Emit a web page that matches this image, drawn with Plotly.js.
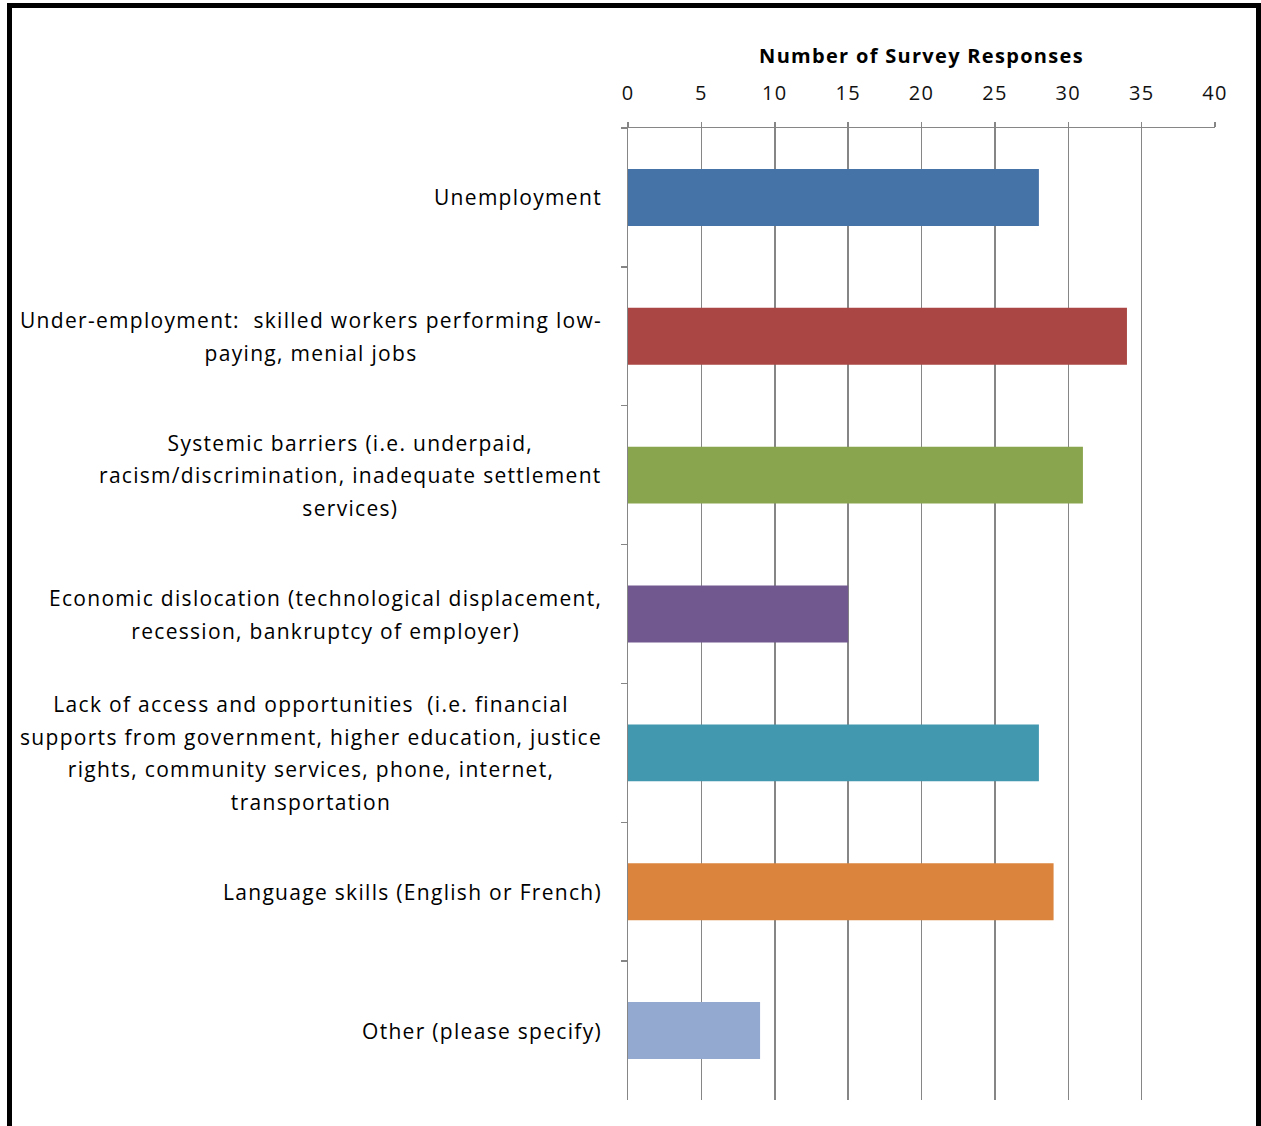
<!DOCTYPE html>
<html>
<head>
<meta charset="utf-8">
<script src="https://cdn.plot.ly/plotly-3.0.1.min.js"></script>
<style>
html,body{margin:0;padding:0;background:#fff;overflow:hidden;}
#wrap{position:relative;width:1261px;height:1126px;}
#frame{position:absolute;left:7px;top:3px;width:1244px;height:1200px;border:5px solid #000;box-sizing:content-box;pointer-events:none;}
#chart{position:absolute;left:0;top:0;width:1261px;height:1126px;}
text{letter-spacing:1.3px;}
</style>
</head>
<body>
<div id="wrap">
<div id="chart"></div>
<div id="frame"></div>
</div>
<script>
const categories = [
  "Unemployment",
  "Under-employment:  skilled workers performing low-<br>paying, menial jobs",
  "Systemic barriers (i.e. underpaid,<br>racism/discrimination, inadequate settlement<br>services)",
  "Economic dislocation (technological displacement,<br>recession, bankruptcy of employer)",
  "Lack of access and opportunities  (i.e. financial<br>supports from government, higher education, justice<br>rights, community services, phone, internet,<br>transportation",
  "Language skills (English or French)",
  "Other (please specify)"
];
const responses = [28, 34, 31, 15, 28, 29, 9];
const barColors = ["#4572A7", "#AA4643", "#89A54E", "#71588F", "#4198AF", "#DB843D", "#93A9CF"];
const xTitle = "Number of Survey Responses";
const xTicks = [0, 5, 10, 15, 20, 25, 30, 35, 40];

const FONT = "'Open Sans', Lato, sans-serif";
const FS = 21;

const trace = {
  type: "bar",
  orientation: "h",
  x: responses,
  y: categories,
  marker: {color: barColors, line: {width: 0}},
  hoverinfo: "x+y"
};

const annotations = categories.map(c => ({
  xref: "paper", yref: "y",
  x: 0, y: c,
  xshift: -24,
  xanchor: "right", yanchor: "middle",
  align: "center",
  text: c,
  showarrow: false,
  font: {family: FONT, size: FS, color: "#000"}
}));

const layout = {
  width: 1261, height: 1126,
  margin: {l: 628, r: 46, t: 128, b: 26, pad: 0},
  paper_bgcolor: "#fff", plot_bgcolor: "#fff",
  showlegend: false,
  bargap: 0.59,
  font: {family: FONT, size: FS, color: "#000"},
  xaxis: {
    side: "top",
    range: [0, 40],
    tickvals: xTicks,
    ticktext: xTicks.map(String),
    showgrid: true, gridcolor: "#868686", gridwidth: 1.5,
    showline: true, linecolor: "#868686", linewidth: 1.5,
    ticks: "outside", ticklen: 5, tickcolor: "#868686", tickwidth: 1.5,
    ticklabelstandoff: 14,
    zeroline: false,
    tickfont: {family: FONT, size: 20, color: "#111"},
    title: {text: xTitle, font: {family: FONT, size: 20, color: "#000", weight: "bold"}, standoff: 9},
    fixedrange: true
  },
  yaxis: {
    autorange: "reversed",
    type: "category",
    showticklabels: false,
    showline: true, linecolor: "#868686", linewidth: 1.5,
    ticks: "outside", tickson: "boundaries", ticklen: 6, tickcolor: "#868686", tickwidth: 1.5,
    showgrid: false, zeroline: false,
    fixedrange: true
  },
  annotations: annotations
};

Plotly.newPlot("chart", [trace], layout, {displayModeBar: false, staticPlot: true}).then(() => {
  // widen line spacing of multi-line labels to match the original (1.55em instead of 1.3em)
  const k = 1.55 / 1.3;
  document.querySelectorAll("#chart .annotation-text").forEach(t => {
    const lines = t.querySelectorAll("tspan.line");
    if (lines.length < 2) return;
    lines.forEach(ln => {
      const dy = ln.getAttribute("dy");
      if (dy && parseFloat(dy) > 0) ln.setAttribute("dy", (parseFloat(dy) * k) + "em");
    });
    const shift = -(lines.length - 1) * 0.25 * FS / 2;
    const tr = t.getAttribute("transform") || "";
    t.setAttribute("transform", tr + " translate(0," + shift + ")");
  });
});
</script>
</body>
</html>
